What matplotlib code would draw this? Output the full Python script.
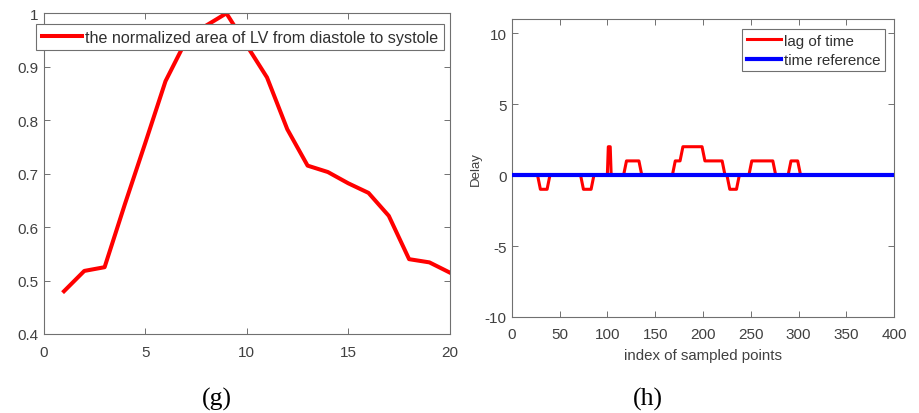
import matplotlib.pyplot as plt

# (g) normalized LV area
frame = list(range(1, 21))
area = [0.48, 0.518, 0.525, 0.643, 0.757, 0.873, 0.948, 0.977, 1.0, 0.94,
        0.88, 0.783, 0.715, 0.703, 0.682, 0.664, 0.621, 0.54, 0.534, 0.515]

# (h) lag of time (breakpoints)
lag_x = [0, 27, 30, 37, 40, 72, 75, 83, 86, 100, 101, 103, 104, 117, 120, 133, 136,
         168, 171, 176, 179, 199, 202, 220, 223, 225, 228, 235, 238, 248, 251, 273,
         276, 289, 292, 299, 302, 400]
lag_y = [0, 0, -1, -1, 0, 0, -1, -1, 0, 0, 2, 2, 0, 0, 1, 1, 0,
         0, 1, 1, 2, 2, 1, 1, 0, 0, -1, -1, 0, 0, 1, 1,
         0, 0, 1, 1, 0, 0]
ref_x = [0, 400]
ref_y = [0, 0]

plt.rcParams['font.family'] = ['Liberation Sans', 'DejaVu Sans']
plt.rcParams['axes.unicode_minus'] = False
txt = '#404040'
edge = '#707070'

fig = plt.figure(figsize=(9.19, 4.14), dpi=100)
W, H = 919.0, 414.0

def style(ax, xpad):
    for s in ax.spines.values():
        s.set_color(edge)
        s.set_linewidth(0.8)
    ax.tick_params(direction='in', length=4, width=0.7, colors=edge,
                   labelcolor=txt, labelsize=11, top=True, right=True)
    ax.tick_params(axis='x', pad=xpad)

# left panel
ax1 = fig.add_axes([43.7 / W, 1 - 335 / H, 406 / W, 320.7 / H])
ax1.plot(frame, area, color='#ff0000', linewidth=2.9,
         label='the normalized area of LV from diastole to systole')
ax1.set_xlim(0, 20)
ax1.set_ylim(0.4, 1)
ax1.set_xticks([0, 5, 10, 15, 20])
ax1.set_yticks([0.4, 0.5, 0.6, 0.7, 0.8, 0.9, 1.0])
ax1.set_yticklabels(['0.4', '0.5', '0.6', '0.7', '0.8', '0.9', '1'])
style(ax1, 8)
leg1 = ax1.legend(loc='upper left', bbox_to_anchor=(36 / W, 1 - 25 / H),
                  bbox_transform=fig.transFigure, borderaxespad=0,
                  fontsize=11.6, handlelength=2.5, handletextpad=0.2,
                  borderpad=0.35, fancybox=False, framealpha=1)
leg1.get_frame().set_edgecolor(edge)
leg1.get_frame().set_linewidth(0.8)
for t in leg1.get_texts():
    t.set_color('#303030')

# right panel
ax2 = fig.add_axes([511.7 / W, 1 - 318 / H, 382.6 / W, 298 / H])
ax2.plot(lag_x, lag_y, color='#ff0000', linewidth=2.2, label='lag of time', zorder=2)
ax2.plot(ref_x, ref_y, color='#0000ff', linewidth=3.0, label='time reference', zorder=3)
ax2.set_xlim(0, 400)
ax2.set_ylim(-10, 11)
ax2.set_xticks(range(0, 401, 50))
ax2.set_yticks([-10, -5, 0, 5, 10])
ax2.set_xlabel('index of sampled points', fontsize=10.8, color=txt, labelpad=5)
ax2.set_ylabel('Delay', fontsize=9.5, color=txt, labelpad=2)
style(ax2, 7)
leg2 = ax2.legend(loc='upper left', bbox_to_anchor=(742 / W, 1 - 30 / H),
                  bbox_transform=fig.transFigure, borderaxespad=0,
                  fontsize=10.9, handlelength=2.3, handletextpad=0.2,
                  borderpad=0.3, labelspacing=0.35, fancybox=False, framealpha=1)
leg2.get_frame().set_edgecolor(edge)
leg2.get_frame().set_linewidth(0.8)
for t in leg2.get_texts():
    t.set_color('#303030')

# panel captions
fig.text(217 / W, 1 - 399 / H, '(g)', ha='center', va='center',
         fontsize=18.5, family='Liberation Serif', color='black')
fig.text(648 / W, 1 - 399 / H, '(h)', ha='center', va='center',
         fontsize=18.5, family='Liberation Serif', color='black')

fig.savefig('out.png', dpi=100)
